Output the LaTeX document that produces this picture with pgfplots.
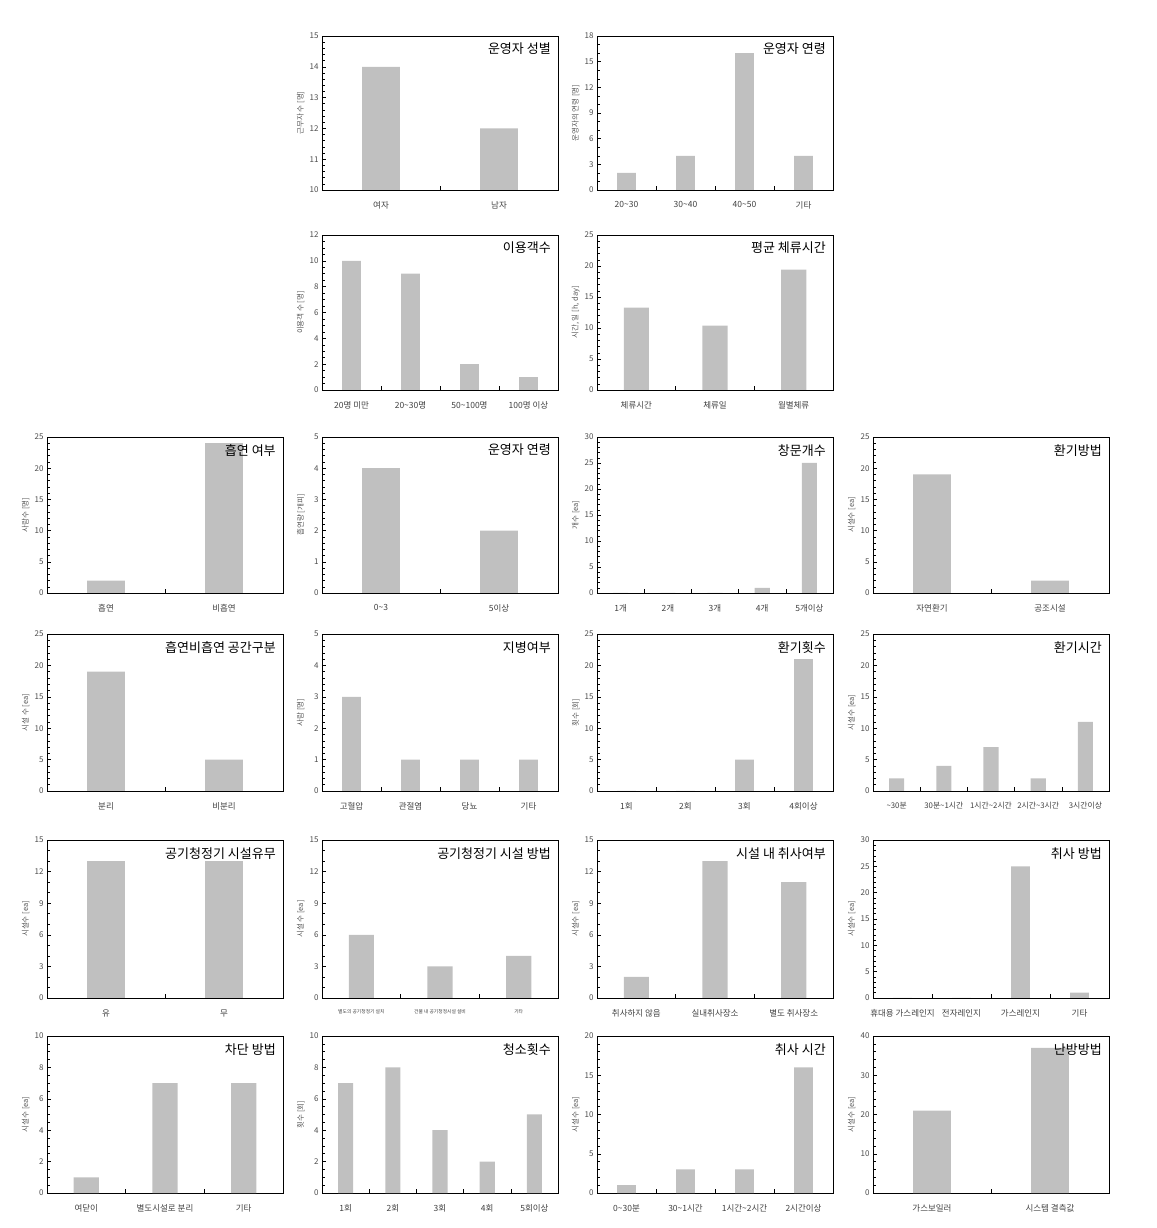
\documentclass[border=0pt]{standalone}
\usepackage{fontspec}
\setmainfont{Noto Sans CJK KR}
\usepackage{pgfplots}
\pgfplotsset{compat=1.18}
\definecolor{barg}{RGB}{192,192,192}
\pgfplotsset{
 pan/.style={
  scale only axis, width=236pt, anchor=south west,
  axis line style={line width=0.9pt},
  ybar, bar width=0.32, ymin=0, xmin=0.5,
  tick align=inside, ytick pos=left, xtick pos=bottom,
  major tick length=4pt, minor tick length=2.5pt,
  every tick/.style={black, line width=0.5pt},
  xticklabels={},
  tick label style={font=\fontsize{8}{8}\selectfont, text=black!70},
  every axis y label/.style={at={(axis description cs:-0.09,0.5)},rotate=90,anchor=center,font=\fontsize{7.5}{7.5}\selectfont,text=black!65},
  /pgf/number format/assume math mode=true,
  extra x tick style={major tick length=0pt, tick label style={font=\fontsize{8.5}{9}\selectfont, text=black!75, yshift=-8pt}},
  every axis plot post/.append style={fill=barg, draw=none},
 },
}
\newcommand\ttl[1]{\node[anchor=north east,inner sep=0pt,font=\fontsize{13}{13}\selectfont] at (rel axis cs:0.97,0.955) {#1};}
\newcommand\tl{\textasciitilde}
\begin{document}
\begin{tikzpicture}
\path[use as bounding box] (0,0) rectangle (1156pt,1228pt);
% Row 1
\begin{axis}[pan, at={(322pt,1038pt)}, height=154pt, ymin=10, ymax=15, ytick distance=1, minor y tick num=4, xmax=2.5, xtick={1.5}, extra x ticks={1,2}, extra x tick labels={여자,남자}, ylabel={근무자 수 [명]}]
\addplot coordinates {(1,14) (2,12)};
\ttl{운영자 성별}
\end{axis}
\begin{axis}[pan, at={(597pt,1038pt)}, height=154pt, ymax=18, ytick distance=3, minor y tick num=2, xmax=4.5, xtick={1.5,2.5,3.5}, extra x ticks={1,2,3,4}, extra x tick labels={20\tl30,30\tl40,40\tl50,기타}, ylabel={운영자의 연령 [명]}]
\addplot coordinates {(1,2) (2,4) (3,16) (4,4)};
\ttl{운영자 연령}
\end{axis}
% Row 2
\begin{axis}[pan, at={(322pt,838pt)}, height=155pt, ymax=12, ytick distance=2, minor y tick num=3, xmax=4.5, xtick={1.5,2.5,3.5}, extra x ticks={1,2,3,4}, extra x tick labels={20명 미만,20\tl30명,50\tl100명,100명 이상}, ylabel={이용객 수 [명]}]
\addplot coordinates {(1,10) (2,9) (3,2) (4,1)};
\ttl{이용객수}
\end{axis}
\begin{axis}[pan, at={(597pt,838pt)}, height=155pt, ymax=25, ytick distance=5, minor y tick num=4, xmax=3.5, xtick={1.5,2.5}, extra x ticks={1,2,3}, extra x tick labels={체류시간,체류일,월별체류}, ylabel={시간, 일 [h, day]}]
\addplot coordinates {(1,13.3) (2,10.4) (3,19.4)};
\ttl{평균 체류시간}
\end{axis}
% Row 3
\begin{axis}[pan, at={(47pt,635pt)}, height=156pt, ymax=25, ytick distance=5, minor y tick num=4, xmax=2.5, xtick={1.5}, extra x ticks={1,2}, extra x tick labels={흡연,비흡연}, ylabel={사람수 [명]}]
\addplot coordinates {(1,2) (2,24)};
\ttl{흡연 여부}
\end{axis}
\begin{axis}[pan, at={(322pt,635pt)}, height=156pt, ymax=5, ytick distance=1, minor y tick num=4, xmax=2.5, xtick={1.5}, extra x ticks={1,2}, extra x tick labels={0\tl3,5이상}, ylabel={흡연량 [개피]}]
\addplot coordinates {(1,4) (2,2)};
\ttl{운영자 연령}
\end{axis}
\begin{axis}[pan, at={(597pt,635pt)}, height=156pt, ymax=30, ytick distance=5, minor y tick num=4, xmax=5.5, xtick={1.5,2.5,3.5,4.5}, extra x ticks={1,2,3,4,5}, extra x tick labels={1개,2개,3개,4개,5개이상}, ylabel={개수 [ea]}]
\addplot coordinates {(1,0) (2,0) (3,0) (4,1) (5,25)};
\ttl{창문개수}
\end{axis}
\begin{axis}[pan, at={(873pt,635pt)}, height=156pt, ymax=25, ytick distance=5, minor y tick num=4, xmax=2.5, xtick={1.5}, extra x ticks={1,2}, extra x tick labels={자연환기,공조시설}, ylabel={시설수 [ea]}]
\addplot coordinates {(1,19) (2,2)};
\ttl{환기방법}
\end{axis}
% Row 4
\begin{axis}[pan, at={(47pt,437pt)}, height=157pt, ymax=25, ytick distance=5, minor y tick num=4, xmax=2.5, xtick={1.5}, extra x ticks={1,2}, extra x tick labels={분리,비분리}, ylabel={시설 수 [ea]}]
\addplot coordinates {(1,19) (2,5)};
\ttl{흡연비흡연 공간구분}
\end{axis}
\begin{axis}[pan, at={(322pt,437pt)}, height=157pt, ymax=5, ytick distance=1, minor y tick num=4, xmax=4.5, xtick={1.5,2.5,3.5}, extra x ticks={1,2,3,4}, extra x tick labels={고혈압,관절염,당뇨,기타}, ylabel={사람 [명]}]
\addplot coordinates {(1,3) (2,1) (3,1) (4,1)};
\ttl{지병여부}
\end{axis}
\begin{axis}[pan, at={(597pt,437pt)}, height=157pt, ymax=25, ytick distance=5, minor y tick num=4, xmax=4.5, xtick={1.5,2.5,3.5}, extra x ticks={1,2,3,4}, extra x tick labels={1회,2회,3회,4회이상}, ylabel={횟수 [회]}]
\addplot coordinates {(1,0) (2,0) (3,5) (4,21)};
\ttl{환기횟수}
\end{axis}
\begin{axis}[pan, at={(873pt,437pt)}, height=157pt, ymax=25, ytick distance=5, minor y tick num=4, xmax=5.5, xtick={1.5,2.5,3.5,4.5}, extra x ticks={1,2,3,4,5}, extra x tick labels={\tl30분,30분\tl1시간,1시간\tl2시간,2시간\tl3시간,3시간이상}, extra x tick style={tick label style={font=\fontsize{7.8}{8}\selectfont}}, ylabel={시설수 [ea]}]
\addplot coordinates {(1,2) (2,4) (3,7) (4,2) (5,11)};
\ttl{환기시간}
\end{axis}
% Row 5
\begin{axis}[pan, at={(47pt,230pt)}, height=158pt, ymax=15, ytick distance=3, minor y tick num=2, xmax=2.5, xtick={1.5}, extra x ticks={1,2}, extra x tick labels={유,무}, ylabel={시설수 [ea]}]
\addplot coordinates {(1,13) (2,13)};
\ttl{공기청정기 시설유무}
\end{axis}
\begin{axis}[pan, at={(322pt,230pt)}, height=158pt, ymax=15, ytick distance=3, minor y tick num=2, xmax=3.5, xtick={1.5,2.5}, extra x ticks={1,2,3}, extra x tick labels={별도의 공기청정기 설치,건물 내 공기청정시설 설비,기타}, extra x tick style={tick label style={font=\fontsize{4.8}{5}\selectfont}}, ylabel={시설 수 [ea]}]
\addplot coordinates {(1,6) (2,3) (3,4)};
\ttl{공기청정기 시설 방법}
\end{axis}
\begin{axis}[pan, at={(597pt,230pt)}, height=158pt, ymax=15, ytick distance=3, minor y tick num=2, xmax=3.5, xtick={1.5,2.5}, extra x ticks={1,2,3}, extra x tick labels={취사하지 않음,실내취사장소,별도 취사장소}, ylabel={시설수 [ea]}]
\addplot coordinates {(1,2) (2,13) (3,11)};
\ttl{시설 내 취사여부}
\end{axis}
\begin{axis}[pan, at={(873pt,230pt)}, height=158pt, ymax=30, ytick distance=5, minor y tick num=4, xmax=4.5, xtick={1.5,2.5,3.5}, extra x ticks={1,2,3,4}, extra x tick labels={휴대용 가스레인지,전자레인지,가스레인지,기타}, ylabel={시설수 [ea]}]
\addplot coordinates {(1,0) (2,0) (3,25) (4,1)};
\ttl{취사 방법}
\end{axis}
% Row 6
\begin{axis}[pan, at={(47pt,35pt)}, height=157pt, ymax=10, ytick distance=2, minor y tick num=3, xmax=3.5, xtick={1.5,2.5}, extra x ticks={1,2,3}, extra x tick labels={여닫이,별도시설로 분리,기타}, ylabel={시설수 [ea]}]
\addplot coordinates {(1,1) (2,7) (3,7)};
\ttl{차단 방법}
\end{axis}
\begin{axis}[pan, at={(322pt,35pt)}, height=157pt, ymax=10, ytick distance=2, minor y tick num=3, xmax=5.5, xtick={1.5,2.5,3.5,4.5}, extra x ticks={1,2,3,4,5}, extra x tick labels={1회,2회,3회,4회,5회이상}, ylabel={횟수 [회]}]
\addplot coordinates {(1,7) (2,8) (3,4) (4,2) (5,5)};
\ttl{청소횟수}
\end{axis}
\begin{axis}[pan, at={(597pt,35pt)}, height=157pt, ymax=20, ytick distance=5, minor y tick num=4, xmax=4.5, xtick={1.5,2.5,3.5}, extra x ticks={1,2,3,4}, extra x tick labels={0\tl30분,30\tl1시간,1시간\tl2시간,2시간이상}, ylabel={시설수 [ea]}]
\addplot coordinates {(1,1) (2,3) (3,3) (4,16)};
\ttl{취사 시간}
\end{axis}
\begin{axis}[pan, at={(873pt,35pt)}, height=157pt, ymax=40, ytick distance=10, minor y tick num=4, xmax=2.5, xtick={1.5}, extra x ticks={1,2}, extra x tick labels={가스보일러,시스템 결측값}, ylabel={시설수 [ea]}]
\addplot coordinates {(1,21) (2,37)};
\ttl{난방방법}
\end{axis}
\end{tikzpicture}
\end{document}
